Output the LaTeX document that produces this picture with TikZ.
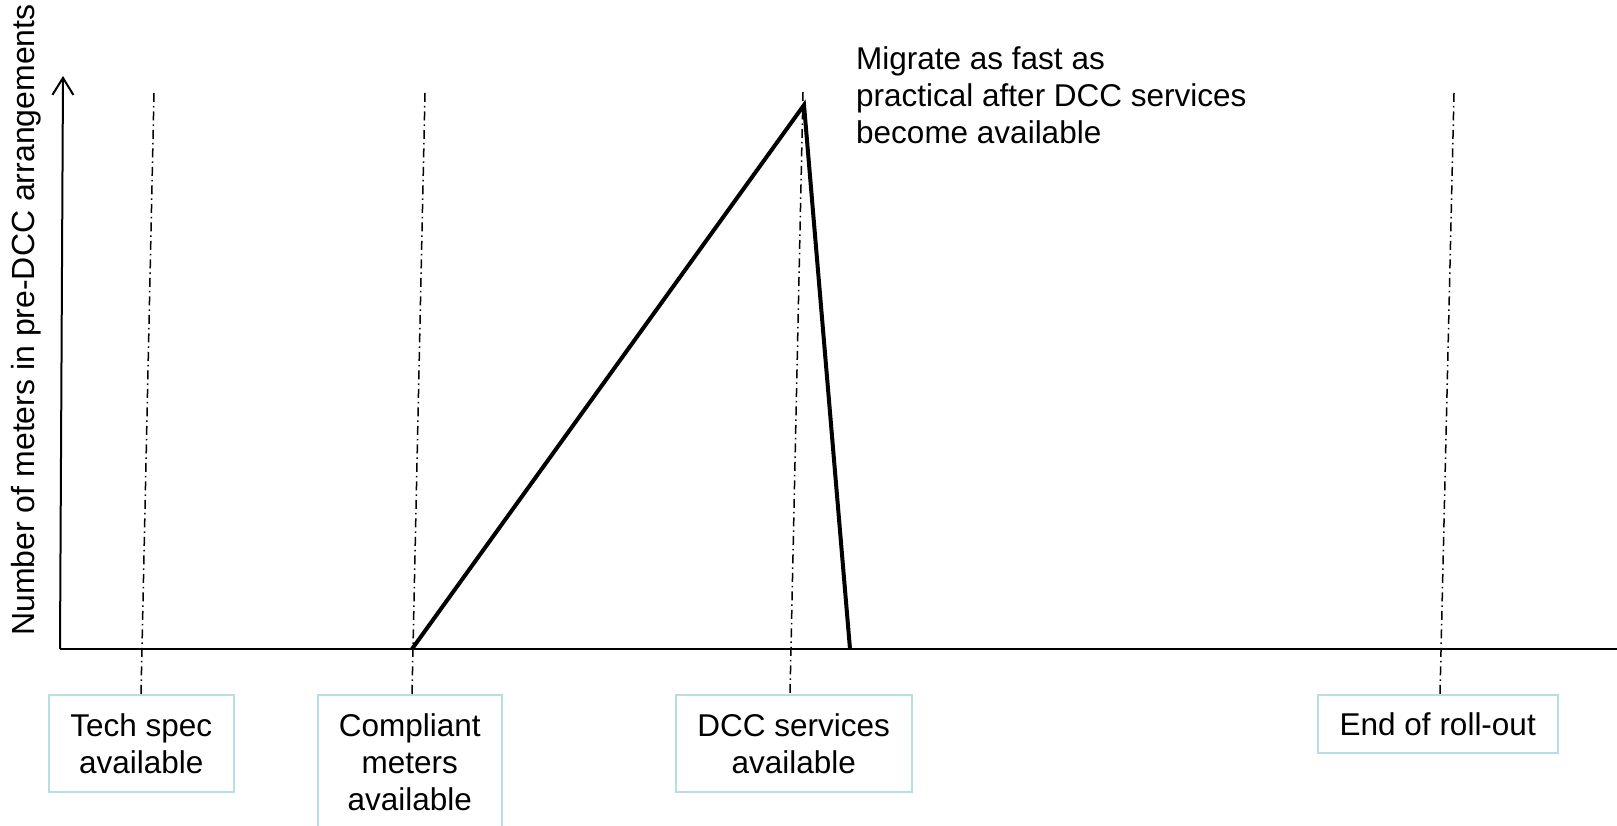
\documentclass[tikz,border=0pt]{standalone}
\usepackage{fontspec}
\setmainfont{Liberation Sans}
\usetikzlibrary{arrows.meta}
\definecolor{boxblue}{RGB}{183,222,228}
\begin{document}
\begin{tikzpicture}[x=1pt,y=-1pt,
  every node/.style={font=\fontsize{31.5}{37}\selectfont},
  axisline/.style={line width=2pt},
  guide/.style={line width=1.5pt, dash pattern=on 9pt off 4pt on 1.5pt off 4pt},
  trend/.style={line width=4pt, line join=miter},
  milestone/.style={draw=boxblue, line width=1.5pt, align=center, inner sep=0pt, anchor=north west}
]
\useasboundingbox (0,0) rectangle (1617,826);

% milestone boxes
\node[milestone, minimum width=185pt, minimum height=97pt] (tech) at (48,694) {Tech spec\\available};
\node[milestone, minimum width=184pt, minimum height=134pt] (compliant) at (317,694) {Compliant\\meters\\available};
\node[milestone, minimum width=236pt, minimum height=97pt] (dcc) at (675,694) {DCC services\\available};
\node[milestone, minimum width=240pt, minimum height=58pt] (rollout) at (1317,694) {End of roll-out};

% guide lines
\coordinate (g1t) at (154,93);  \coordinate (g1b) at (141,694);
\coordinate (g2t) at (425,93);  \coordinate (g2b) at (412,694);
\coordinate (g3t) at (803,92);  \coordinate (g3b) at (790,694);
\coordinate (g4t) at (1454,93); \coordinate (g4b) at (1440,694);
\draw[guide] (g1t) -- (g1b);
\draw[guide] (g2t) -- (g2b);
\draw[guide] (g3t) -- (g3b);
\draw[guide] (g4t) -- (g4b);

% axes
\coordinate (origin) at (60,649);
\coordinate (ytop) at (63,76);
\coordinate (xend) at (1620,649);
\draw[axisline] (xend) -- (origin);
\draw[axisline, -{Straight Barb[length=17pt,width=21pt]}] (origin) -- (ytop);

% trend line
\coordinate (rise) at (412,649);
\coordinate (peak) at (804,105);
\coordinate (fall) at (850,649);
\draw[trend] (rise) -- (peak) -- (fall);

% labels
\node[rotate=90, anchor=base, font=\fontsize{32}{38}\selectfont] (ylabel) at (34,320) {Number of meters in pre-DCC arrangements};
\node[anchor=north west, align=left, inner sep=0pt] (note) at (856,46) {Migrate as fast as\\practical after DCC services\\become available};
\end{tikzpicture}
\end{document}
